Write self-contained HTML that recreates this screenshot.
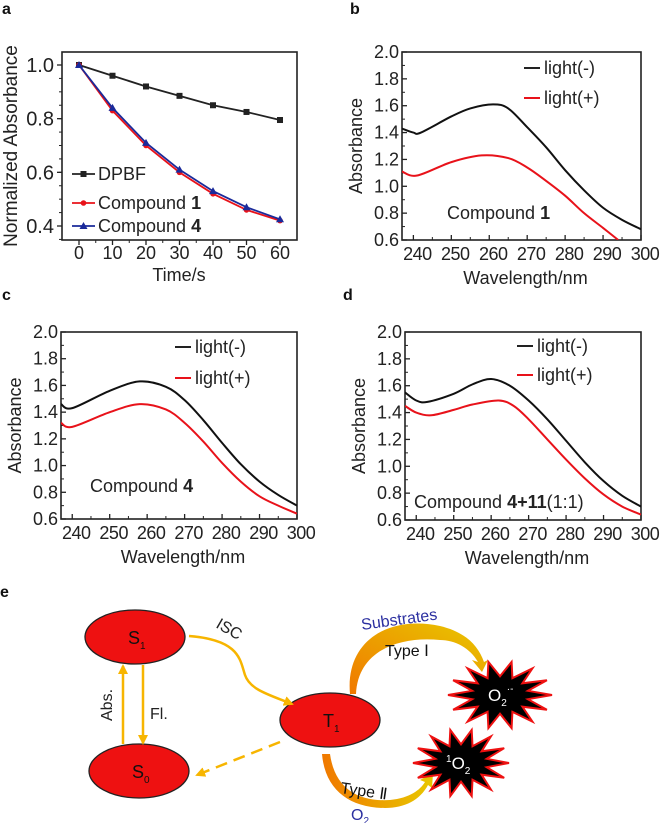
<!DOCTYPE html>
<html><head><meta charset="utf-8"><style>
body{margin:0;background:#fff;}
svg{display:block;font-family:"Liberation Sans",Arial,sans-serif;}
</style></head><body>
<svg id="fig" width="664" height="823" viewBox="0 0 664 823">
<defs>
<linearGradient id="gradA" x1="0" y1="1" x2="1" y2="0"><stop offset="0" stop-color="#f07800"/><stop offset="1" stop-color="#e8c800"/></linearGradient>
<linearGradient id="gradB" x1="0" y1="0" x2="1" y2="0"><stop offset="0" stop-color="#f07800"/><stop offset="1" stop-color="#e8c800"/></linearGradient>
<marker id="arrY" markerWidth="10" markerHeight="10" refX="8" refY="5" orient="auto" markerUnits="userSpaceOnUse"><path d="M0,0 L10,5 L0,10 Z" fill="#f7b500"/></marker>
</defs>
<g id="plots"></g>
<g id="diagram"></g>
</svg>
<script>
// ---- Panel a data ----
const timeCats = [0,10,20,30,40,50,60];
const dpbfVals = [1.0,0.96,0.92,0.885,0.85,0.825,0.795];
const comp1Vals = [1.0,0.83,0.70,0.60,0.52,0.46,0.42];
const comp4Vals = [1.0,0.84,0.71,0.61,0.53,0.47,0.425];
const aYTicks = ["0.4","0.6","0.8","1.0"];
const aXTicks = ["0","10","20","30","40","50","60"];
// ---- Wavelength panels data ----
const wlTicks = ["240","250","260","270","280","290","300"];
const absTicks = ["0.6","0.8","1.0","1.2","1.4","1.6","1.8","2.0"];
const bWl = [237,240,242,250,255,261,265,270,275,280,285,290,295,300];
const bDark = [1.43,1.40,1.40,1.52,1.58,1.61,1.58,1.44,1.29,1.12,0.97,0.84,0.75,0.68];
const bWlLight = [237,241,250,258,265,270,275,280,285,290,294];
const bLight = [1.11,1.08,1.18,1.23,1.21,1.14,1.04,0.93,0.80,0.69,0.60];
const cWl = [237,240,250,258,265,270,275,280,285,290,295,300];
const cDark = [1.46,1.43,1.56,1.63,1.59,1.49,1.34,1.17,1.01,0.88,0.78,0.70];
const cLight = [1.32,1.29,1.40,1.46,1.42,1.32,1.18,1.02,0.88,0.77,0.70,0.64];
const dWl = [237,240,243,250,255,260,265,270,275,280,285,290,295,300];
const dDark = [1.55,1.49,1.48,1.54,1.61,1.65,1.60,1.49,1.35,1.19,1.03,0.89,0.78,0.70];
const dWlLight = [237,240,244,250,255,262,266,270,275,280,285,290,295,300];
const dLight = [1.45,1.40,1.38,1.42,1.46,1.49,1.45,1.35,1.20,1.05,0.91,0.79,0.70,0.64];

const NS="http://www.w3.org/2000/svg";
const root=document.getElementById('plots');
function mk(tag,attrs,parent){const e=document.createElementNS(NS,tag);for(const k in attrs)e.setAttribute(k,attrs[k]);(parent||root).appendChild(e);return e;}
function txt(s,x,y,opts,parent){const t=mk('text',Object.assign({x:x,y:y,'font-size':18,fill:'#222'},opts||{}),parent);t.textContent=s;return t;}
function smooth(pts){let d='M'+pts[0][0]+','+pts[0][1];for(let i=0;i<pts.length-1;i++){const p0=pts[i-1]||pts[i],p1=pts[i],p2=pts[i+1],p3=pts[i+2]||p2;const c1=[p1[0]+(p2[0]-p0[0])/6,p1[1]+(p2[1]-p0[1])/6],c2=[p2[0]-(p3[0]-p1[0])/6,p2[1]-(p3[1]-p1[1])/6];d+=' C'+c1[0]+','+c1[1]+' '+c2[0]+','+c2[1]+' '+p2[0]+','+p2[1];}return d;}

function frame(g,L,T,R,B){
  mk('rect',{x:L,y:T,width:R-L,height:B-T,fill:'none',stroke:'#222','stroke-width':1.6},g);
}

// ---- Panel a ----
(function(){
  const g=mk('g',{});
  
  
  const L=62,T=52,R=297,B=240;
  const xS=v=>79+(v-0)*(280-79)/60, yS=v=>65+(1.0-v)*(226-65)/0.6;
  frame(g,L,T,R,B);
  aXTicks.forEach(s=>{const v=+s,x=xS(v);mk('line',{x1:x,y1:B,x2:x,y2:B+5,stroke:'#222','stroke-width':1.3},g);const mx=xS(v+5);if(v<60)mk('line',{x1:mx,y1:B,x2:mx,y2:B+3,stroke:'#222','stroke-width':1},g);const t=txt(s,x,B+19,{'text-anchor':'middle'},g);});
  for(let v=0.35;v<=1.06;v+=0.05){const y=yS(v);if(y<T||y>B)continue;mk('line',{x1:L,y1:y,x2:L-3,y2:y,stroke:'#222','stroke-width':1},g);}
  aYTicks.forEach(s=>{const v=+s,y=yS(v);mk('line',{x1:L,y1:y,x2:L-5,y2:y,stroke:'#222','stroke-width':1.3},g);const t=txt(s,L-8,y+7,{'text-anchor':'end','font-size':20},g);});
  const xt=txt('Time/s',179,281,{'text-anchor':'middle'},g);
  const yt=txt('Normalized Absorbance',0,0,{'text-anchor':'middle','font-size':19,transform:'translate(17,146) rotate(-90)'},g);
  const series=[[dpbfVals,'#222','sq','series-dpbf'],[comp1Vals,'#e8121a','dot','series-compound-1'],[comp4Vals,'#1a2a9a','tri','series-compound-4']];
  series.forEach(([vals,col,m,name])=>{
    const p=mk('polyline',{points:vals.map((v,i)=>xS(timeCats[i])+','+yS(v)).join(' '),fill:'none',stroke:col,'stroke-width':1.8},g);
    
    vals.forEach((v,i)=>{const x=xS(timeCats[i]),y=yS(v);let e;
      if(m==='sq')e=mk('rect',{x:x-3,y:y-3,width:6,height:6,fill:col},g);
      else if(m==='dot')e=mk('circle',{cx:x,cy:y,r:2.8,fill:col},g);
      else e=mk('path',{d:`M${x},${y-4}L${x+4},${y+3}L${x-4},${y+3}Z`,fill:col},g);
      });
  });
  [['DPBF','#222','sq',174],['Compound ','#e8121a','dot',203],['Compound ','#1a2a9a','tri',226]].forEach(([s,col,m,y],i)=>{
    mk('line',{x1:72,y1:y,x2:95,y2:y,stroke:col,'stroke-width':1.8},g);
    if(m==='sq')mk('rect',{x:80.5,y:y-3,width:6,height:6,fill:col},g);else if(m==='dot')mk('circle',{cx:83.5,cy:y,r:2.8,fill:col},g);else mk('path',{d:`M83.5,${y-4}L87.5,${y+3}L79.5,${y+3}Z`,fill:col},g);
    const t=txt(s,98,y+6,{},g);
    if(i>0){const b=mk('tspan',{'font-weight':'bold'},t);b.textContent=i===1?'1':'4';}
  });
})();

function wlPanel(name,L,T,R,B,curves,legX,legY,label){
  const g=mk('g',{});
  
  
  const xS=v=>L+(v-237)*(R-L)/63, yS=v=>B-(v-0.6)*(B-T)/1.4;
  frame(g,L,T,R,B);
  wlTicks.forEach(s=>{const v=+s,x=xS(v);mk('line',{x1:x,y1:B,x2:x,y2:B-5,stroke:'#222','stroke-width':1.3},g);if(v<300)mk('line',{x1:xS(v+5),y1:B,x2:xS(v+5),y2:B-3,stroke:'#222','stroke-width':1},g);const t=txt(s,x+4,B+20,{'text-anchor':'middle','letter-spacing':'-0.5'},g);});
  absTicks.forEach(s=>{const v=+s,y=yS(v);mk('line',{x1:L,y1:y,x2:L+5,y2:y,stroke:'#222','stroke-width':1.3},g);if(v<2)mk('line',{x1:L,y1:yS(v+0.1),x2:L+3,y2:yS(v+0.1),stroke:'#222','stroke-width':1},g);const t=txt(s,L-3,y+6,{'text-anchor':'end'},g);});
  const xt=txt('Wavelength/nm',(L+R)/2+4,B+44,{'text-anchor':'middle'},g);
  const yt=txt('Absorbance',0,0,{'text-anchor':'middle',transform:`translate(${L-40},${(T+B)/2}) rotate(-90)`},g);
  const clip='clip-'+name;const cp=mk('clipPath',{id:clip},g);mk('rect',{x:L,y:T,width:R-L,height:B-T},cp);
  curves.forEach(([wl,vals,col,sname])=>{const p=mk('path',{d:smooth(wl.map((w,i)=>[xS(w),yS(vals[i])])),fill:'none',stroke:col,'stroke-width':2,'clip-path':`url(#${clip})`},g);});
  [['light(-)','#222',legY[0]],['light(+)','#e8121a',legY[1]]].forEach(([s,col,y])=>{mk('line',{x1:legX,y1:y,x2:legX+16,y2:y,stroke:col,'stroke-width':2},g);const t=txt(s,legX+20,y+6,{},g);});
  const t=txt('Compound ',label[0],label[1],{},g);
  const b=mk('tspan',{'font-weight':'bold'},t);b.textContent=label[2];
  if(label[3]){const r=mk('tspan',{},t);r.textContent=label[3];}
}
wlPanel('panel-b',402,52,641,240,[[bWl,bDark,'#111','series-light-minus'],[bWlLight,bLight,'#e8121a','series-light-plus']],524,[68,98],[447,219,'1']);
wlPanel('panel-c',61,332,297,519,[[cWl,cDark,'#111','series-light-minus'],[cWl,cLight,'#e8121a','series-light-plus']],175,[347,378],[90,492,'4']);
wlPanel('panel-d',405,332,641,520,[[dWl,dDark,'#111','series-light-minus'],[dWlLight,dLight,'#e8121a','series-light-plus']],517,[346,375],[414,508,'4+11','(1:1)']);

[['a',2,14],['b',350,14],['c',2,300],['d',343,300],['e',0,597]].forEach(([s,x,y])=>{const t=txt(s,x,y,{'font-weight':'bold','font-size':16,fill:'#111'});});

// ---- Diagram e ----
(function(){
  const g=document.getElementById('diagram');
  function ell(cx,cy,lab,sub,name){const e=mk('ellipse',{cx:cx,cy:cy,rx:50,ry:27,fill:'#ee1111',stroke:'#222','stroke-width':1.3},g);
    const t=txt(lab,cx-7,cy+7,{'font-size':18,fill:'#111'},g);const s=mk('tspan',{'font-size':10,dy:5},t);s.textContent=sub;}
  ell(135,637,'S','1','s1-state');ell(139,771,'S','0','s0-state');ell(330,720,'T','1','t1-state');
  const ab=mk('line',{x1:123,y1:744,x2:123,y2:666,stroke:'#f7b500','stroke-width':2.5,'marker-end':'url(#arrY)'},g);
  const fl=mk('line',{x1:143,y1:665,x2:143,y2:743,stroke:'#f7b500','stroke-width':2.5,'marker-end':'url(#arrY)'},g);
  let t=txt('Abs.',0,0,{'font-size':16,'text-anchor':'middle',transform:'translate(112,705) rotate(-90)'},g);
  t=txt('Fl.',150,719,{'font-size':16},g);
  const isc=mk('path',{d:'M189,636 C240,640 240,660 245,675 C250,690 270,695 292,704',fill:'none',stroke:'#f7b500','stroke-width':2.5,'marker-end':'url(#arrY)'},g);
  t=txt('ISC',0,0,{'font-size':16,transform:'translate(215,627) rotate(30)'},g);
  const ds=mk('line',{x1:280,y1:742,x2:197,y2:775,stroke:'#f7b500','stroke-width':2.5,'stroke-dasharray':'12,7','marker-end':'url(#arrY)'},g);
  const a1=mk('path',{d:'M350,694 C345,640 390,615 440,626 C465,632 478,645 484,662 L488,660 L482,672 L472,660 L478,662 C470,648 455,640 440,640 C400,636 358,650 356,694 Z',fill:'url(#gradA)'},g);
  t=txt('Substrates',0,0,{'font-size':16,fill:'#2b2fa0',transform:'translate(362,630) rotate(-8)'},g);
  t=txt('Type Ⅰ',385,656,{'font-size':16,fill:'#111'},g);
  const a2=mk('path',{d:'M322,754 L330,754 C335,790 360,802 390,800 C410,798 420,790 425,782 L420,780 L433,773 L432,788 L428,785 C420,800 405,808 385,808 C350,808 325,790 322,754 Z',fill:'url(#gradB)'},g);
  t=txt('Type Ⅱ',0,0,{'font-size':16,fill:'#111',transform:'translate(340,793) rotate(8)'},g);
  t=txt('O',351,820,{'font-size':16,fill:'#2b2fa0'},g);let s=mk('tspan',{'font-size':10,dy:4},t);s.textContent='2';
  function burst(cx,cy,rx,ry,name){let pts=[];const n=14;for(let i=0;i<2*n;i++){const a=i*Math.PI/n;const r=i%2?0.55:1;pts.push((cx+Math.cos(a)*rx*r).toFixed(1)+','+(cy+Math.sin(a)*ry*r).toFixed(1));}const p=mk('polygon',{points:pts.join(' '),fill:'#000',stroke:'#ee1111','stroke-width':2},g);}
  burst(500,695,52,34,'superoxide-burst');burst(461,763,48,34,'singlet-oxygen-burst');
  t=txt('O',488,701,{'font-size':17,fill:'#fff'},g);s=mk('tspan',{'font-size':10,dy:5},t);s.textContent='2';s=mk('tspan',{'font-size':10,dy:-14},t);s.textContent='·-';
  t=txt('',446,769,{'font-size':17,fill:'#fff'},g);s=mk('tspan',{'font-size':10,dy:-7},t);s.textContent='1';s=mk('tspan',{dy:7},t);s.textContent='O';s=mk('tspan',{'font-size':10,dy:5},t);s.textContent='2';
})();
</script>
</body></html>
